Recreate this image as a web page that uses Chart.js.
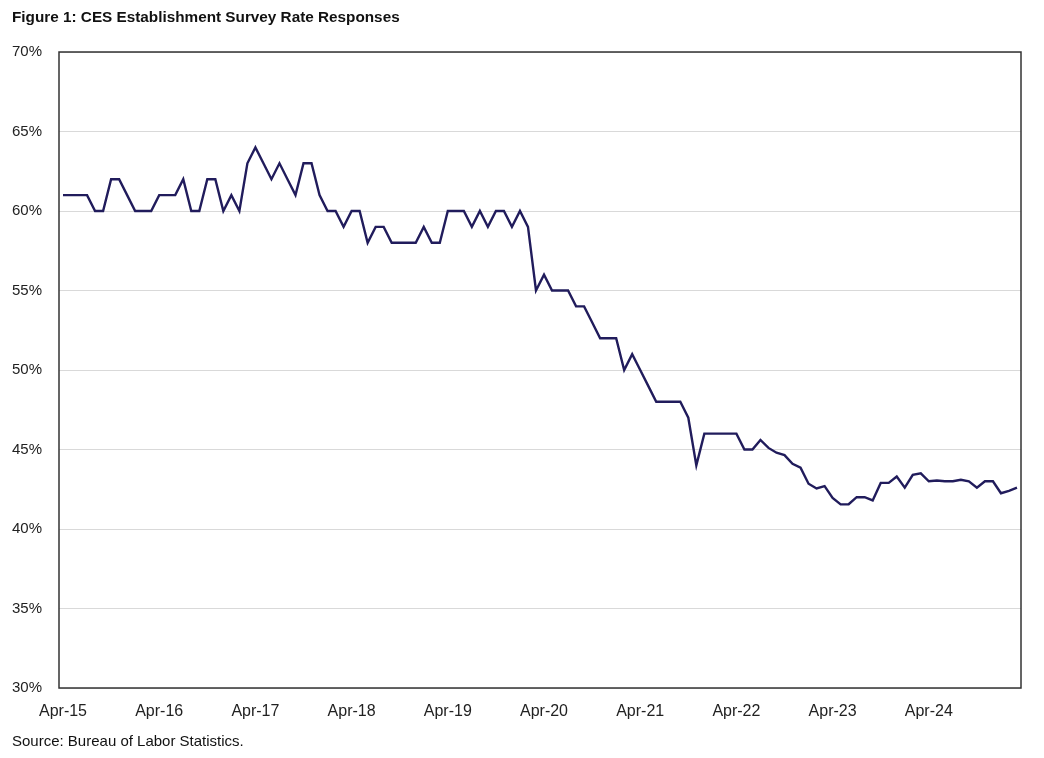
<!DOCTYPE html>
<html>
<head>
<meta charset="utf-8">
<script src="https://cdn.jsdelivr.net/npm/chart.js@4.4.1/dist/chart.umd.min.js"></script>
<style>
  html, body { margin: 0; padding: 0; background: #fff; }
  #wrap { position: relative; width: 1044px; height: 758px; overflow: hidden; }
  #chart { position: absolute; left: 0; top: 0; }
  .title { position: absolute; left: 12px; top: 8px; font: bold 15.3px "Liberation Sans", Arial, sans-serif; color: #111; }
  .source { position: absolute; left: 12px; top: 732px; font: 15px "Liberation Sans", Arial, sans-serif; color: #111; }
</style>
</head>
<body>
<div id="wrap">
  <canvas id="chart" width="1044" height="758"></canvas>
  <div class="title">Figure 1: CES Establishment Survey Rate Responses</div>
  <div class="source">Source: Bureau of Labor Statistics.</div>
</div>
<script>
// Monthly response rate, Apr-15 through Mar-25 (percent)
const monthNames = ['Jan', 'Feb', 'Mar', 'Apr', 'May', 'Jun', 'Jul', 'Aug', 'Sep', 'Oct', 'Nov', 'Dec'];
const years = ['15', '16', '17', '18', '19', '20', '21', '22', '23', '24', '25'];
const tickLabels = ['Apr-15', 'Apr-16', 'Apr-17', 'Apr-18', 'Apr-19', 'Apr-20', 'Apr-21', 'Apr-22', 'Apr-23', 'Apr-24'];

const rate2015 = [61, 61, 61, 61, 60, 60, 62, 62, 61, 60, 60, 60];
const rate2016 = [61, 61, 61, 62, 60, 60, 62, 62, 60, 61, 60, 63];
const rate2017 = [64, 63, 62, 63, 62, 61, 63, 63, 61, 60, 60, 59];
const rate2018 = [60, 60, 58, 59, 59, 58, 58, 58, 58, 59, 58, 58];
const rate2019 = [60, 60, 60, 59, 60, 59, 60, 60, 59, 60, 59, 55];
const rate2020 = [56, 55, 55, 55, 54, 54, 53, 52, 52, 52, 50, 51];
const rate2021 = [50, 49, 48, 48, 48, 48, 47, 44, 46, 46, 46, 46];
const rate2022 = [46, 45, 45, 45.6, 45.1, 44.8, 44.65, 44.1, 43.86, 42.85, 42.55, 42.7];
const rate2023 = [41.96, 41.55, 41.56, 42.0, 42.0, 41.8, 42.9, 42.9, 43.3, 42.6, 43.4, 43.5];
const rate2024 = [43.0, 43.05, 43.0, 43.0, 43.1, 43.0, 42.6, 43.0, 43.0, 42.25, 42.4, 42.6];

const yTicks = [30, 35, 40, 45, 50, 55, 60, 65, 70];

// Build the month labels (Apr of one year to Mar of the next)
const categories = [];
for (let y = 0; y < 10; y++) {
  for (let m = 3; m < 15; m++) {
    const yr = m < 12 ? years[y] : years[y + 1];
    categories.push(monthNames[m % 12] + '-' + yr);
  }
}
const rates = [].concat(rate2015, rate2016, rate2017, rate2018, rate2019,
  rate2020, rate2021, rate2022, rate2023, rate2024);

// Box around the plot area
const frame = {
  id: 'frame',
  afterDatasetsDraw(chart) {
    const { ctx, chartArea: a } = chart;
    ctx.save();
    ctx.strokeStyle = '#333';
    ctx.lineWidth = 1.5;
    ctx.strokeRect(a.left, a.top, a.right - a.left, a.bottom - a.top);
    ctx.restore();
  }
};

new Chart(document.getElementById('chart'), {
  type: 'line',
  data: {
    labels: categories,
    datasets: [{
      data: rates,
      borderColor: '#211c5c',
      borderWidth: 2.4,
      pointRadius: 0,
      tension: 0,
      fill: false
    }]
  },
  options: {
    responsive: false,
    animation: false,
    layout: { padding: { top: 52, right: 23, bottom: 30, left: 0 } },
    plugins: { legend: { display: false }, tooltip: { enabled: false } },
    scales: {
      x: {
        offset: true,
        grid: { display: false, drawTicks: false },
        border: { display: false },
        afterFit(scale) { scale.height = 40; },
        ticks: {
          autoSkip: false,
          maxRotation: 0,
          padding: 14,
          color: '#222',
          font: { family: 'Liberation Sans, Arial, sans-serif', size: 16 },
          callback(value, index) {
            const lbl = categories[index];
            return tickLabels.includes(lbl) ? lbl : '';
          }
        }
      },
      y: {
        min: 30,
        max: 70,
        afterFit(scale) { scale.width = 59; },
        afterBuildTicks(scale) { scale.ticks = yTicks.map(v => ({ value: v })); },
        grid: { color: '#d9d9d9', lineWidth: 1, drawTicks: false },
        border: { display: false },
        ticks: {
          padding: 17,
          color: '#222',
          font: { family: 'Liberation Sans, Arial, sans-serif', size: 15 },
          callback: (v) => v + '%'
        }
      }
    }
  },
  plugins: [frame]
});
</script>
</body>
</html>
